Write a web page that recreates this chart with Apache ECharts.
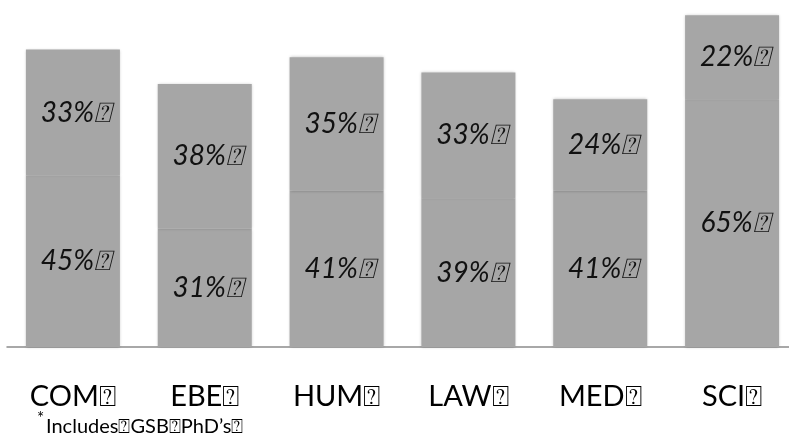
<!DOCTYPE html>
<html><head><meta charset="utf-8">
<script src="https://cdn.jsdelivr.net/npm/echarts@6/dist/echarts.min.js"></script>
<style>html,body{margin:0;padding:0;background:#fff}#c{width:789px;height:439px}</style>
</head><body><div id="c"></div>
<script>
const categories = ['COM', 'EBE', 'HUM', 'LAW', 'MED', 'SCI'];
const lowerValues = [45, 31, 41, 39, 41, 65];
const upperValues = [33, 38, 35, 33, 24, 22];
const missingGlyph = '\u2370';
const footnote = 'Includes' + missingGlyph + 'GSB' + missingGlyph + 'PhD\u2019s' + missingGlyph;

const chart = echarts.init(document.getElementById('c'));
const fontFam = 'Lato, "Noto Sans", "DejaVu Sans", sans-serif';
const labelCfg = {
  show: true, position: 'inside', offset: [3, 0],
  formatter: p => p.value + '%' + missingGlyph,
  fontFamily: fontFam, fontStyle: 'italic', fontSize: 28, color: '#111'
};
const barStyle = { color: '#a6a6a6', shadowBlur: 3, shadowColor: 'rgba(0,0,0,0.25)' };
chart.setOption({
  animation: false,
  grid: { left: 7, width: 791, top: 0, bottom: 92, containLabel: false, outerBoundsMode: 'none' },
  xAxis: {
    type: 'category', data: categories,
    axisLine: { lineStyle: { color: '#8c8c8c', width: 1.5 } },
    axisTick: { show: false },
    axisLabel: { formatter: v => v + missingGlyph, margin: 35, fontFamily: fontFam, fontSize: 29, color: '#000' }
  },
  yAxis: { type: 'value', min: 0, max: 91, show: false, splitLine: { show: false } },
  series: [
    { type: 'bar', stack: 's', data: lowerValues, barWidth: 94, itemStyle: barStyle, label: labelCfg },
    { type: 'bar', stack: 's', data: upperValues, barWidth: 94, itemStyle: barStyle, label: labelCfg }
  ],
  graphic: [
    { type: 'text', left: 37, top: 410, style: { text: '*', fontFamily: fontFam, fontSize: 17, fill: '#000' } },
    { type: 'text', left: 46, top: 417, style: { text: footnote, fontFamily: fontFam, fontSize: 20, fill: '#000' } }
  ]
});
</script></body></html>
